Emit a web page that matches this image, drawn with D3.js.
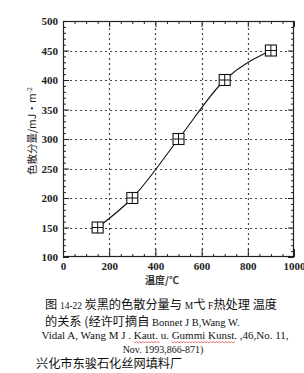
<!DOCTYPE html>
<html><head><meta charset="utf-8">
<script src="https://cdn.jsdelivr.net/npm/d3@7"></script>
<style>
html,body{margin:0;padding:0;background:#fff;}
svg{display:block;}
</style></head>
<body>
<svg id="chart" width="304" height="373"></svg>
<script>
// ---- data ----
const temperatures = [150, 300, 500, 700, 900];
const dispersiveComponent = [150, 200, 300, 400, 450];
const xTickValues = [0, 200, 400, 600, 800, 1000];
const yTickValues = [100, 150, 200, 250, 300, 350, 400, 450, 500];
const xTitle = "温度/℃";
const yTitle = "色散分量/mJ·m";
const yTitleSup = "-2";
const captionLine1 = [["图 ", "cjk"], ["14-22 ", "lat"], ["炭黑的色散分量与 ", "cjk"], ["M", "lat"], ["弋 ", "cjk"], ["F", "lat"], ["热处理 温度", "cjk"]];
const captionLine2 = [["的关系 (经许叮摘自 ", "cjk"], ["Bonnet J B,Wang W.", "lat"]];
const captionLine3 = [["Vidal A, Wang M J . ", "lat"], ["Kaut.", "latw"], [" u. ", "lat"], ["Gummi Kunst", "latw"], [". ,46,No. 11,", "lat"]];
const captionLine4 = "Nov. 1993,866-871)";
const footerText = "兴化市东骏石化丝网填料厂";

const svg = d3.select("#chart");
const L = 63, R = 294, T = 21, B = 257;
const x = d3.scaleLinear().domain([0, 1000]).range([L, R]);
const y = d3.scaleLinear().domain([100, 500]).range([B, T]);
const serif = "'Liberation Serif','DejaVu Serif',serif";
const cjk = "'Noto Sans CJK SC','Noto Sans CJK JP',sans-serif";

// dotted grid
const gridY = yTickValues.filter(v => v > 100 && v < 500);
const gridX = xTickValues.filter(v => v > 0 && v < 1000);
const grid = svg.append("g").attr("stroke", "#4a4a4a").attr("stroke-width", 1.2).attr("stroke-dasharray", "2,3");
grid.selectAll("line.h").data(gridY).join("line").attr("class", "h")
  .attr("x1", L + 2).attr("x2", R - 2).attr("y1", d => Math.round(y(d)) + 0.5).attr("y2", d => Math.round(y(d)) + 0.5);
grid.selectAll("line.v").data(gridX).join("line").attr("class", "v")
  .attr("y1", T + 2).attr("y2", B - 2).attr("x1", d => Math.round(x(d)) + 0.5).attr("x2", d => Math.round(x(d)) + 0.5);

// axes (inward ticks)
const minorY = d3.range(100, 501, 10).filter(v => v % 50 !== 0);
const minorX = d3.range(0, 1001, 50).filter(v => v % 200 !== 0);

function styleAxis(g) {
  g.select(".domain").remove();
  g.selectAll("line").attr("stroke", "#222");
}
const leftAxis = svg.append("g").attr("transform", `translate(${L},0)`)
  .call(d3.axisLeft(y).tickValues(yTickValues).tickSize(-6).tickPadding(5).tickFormat(d3.format("d")));
styleAxis(leftAxis);
leftAxis.selectAll("text").attr("font-family", serif).attr("font-size", 11).attr("font-weight", "bold").attr("fill", "#222");
svg.append("g").attr("transform", `translate(${L},0)`).call(d3.axisLeft(y).tickValues(minorY).tickSize(-3).tickFormat("")).call(styleAxis);

svg.append("g").attr("transform", `translate(${R},0)`)
  .call(d3.axisRight(y).tickValues(yTickValues).tickSize(-6).tickFormat("")).call(styleAxis);
svg.append("g").attr("transform", `translate(${R},0)`).call(d3.axisRight(y).tickValues(minorY).tickSize(-3).tickFormat("")).call(styleAxis);

const bottomAxis = svg.append("g").attr("transform", `translate(0,${B})`)
  .call(d3.axisBottom(x).tickValues(xTickValues).tickSize(-8).tickPadding(5).tickFormat(d3.format("d")));
styleAxis(bottomAxis);
bottomAxis.selectAll("text").attr("font-family", serif).attr("font-size", 11).attr("font-weight", "bold").attr("fill", "#222");
svg.append("g").attr("transform", `translate(0,${B})`).call(d3.axisBottom(x).tickValues(minorX).tickSize(-3).tickFormat("")).call(styleAxis);

svg.append("g").attr("transform", `translate(0,${T})`)
  .call(d3.axisTop(x).tickValues(xTickValues).tickSize(-6).tickFormat("")).call(styleAxis);
svg.append("g").attr("transform", `translate(0,${T})`)
  .call(d3.axisTop(x).tickValues(minorX).tickSize(-3).tickFormat("")).call(styleAxis);

// frame
svg.append("rect").attr("x", L + 0.5).attr("y", T + 0.5).attr("width", R - L - 1).attr("height", B - T - 1)
  .attr("fill", "none").attr("stroke", "#222").attr("stroke-width", 1.2);

// curve
const pts = temperatures.map((t, i) => [t, dispersiveComponent[i]]);
const line = d3.line().x(d => x(d[0])).y(d => y(d[1])).curve(d3.curveMonotoneX);
svg.append("path").datum(pts).attr("d", line).attr("fill", "none").attr("stroke", "#111").attr("stroke-width", 1.1);

// markers: square with cross
const ms = 5.5;
const mk = svg.append("g").selectAll("g").data(pts).join("g")
  .attr("transform", d => `translate(${x(d[0])},${y(d[1])})`);
mk.append("rect").attr("x", -ms).attr("y", -ms).attr("width", 2 * ms).attr("height", 2 * ms)
  .attr("fill", "#fff").attr("stroke", "#111").attr("stroke-width", 1.1);
mk.append("path").attr("d", `M${-ms},0H${ms}M0,${-ms}V${ms}`).attr("stroke", "#111").attr("stroke-width", 1);

// axis titles
const yt = svg.append("text").attr("transform", `translate(36,131) rotate(-90)`)
  .attr("text-anchor", "middle").attr("font-family", cjk).attr("font-size", 10.5).attr("fill", "#222");
yt.append("tspan").text(yTitle);
yt.append("tspan").attr("dy", -4).attr("font-size", 7).text(yTitleSup);

svg.append("text").attr("x", 162).attr("y", 284).attr("text-anchor", "middle")
  .attr("font-family", cjk).attr("font-size", 10).attr("font-weight", "bold").attr("fill", "#333").text(xTitle);

// caption
function richLine(parts, xPos, yPos, opts) {
  const o = Object.assign({ anchor: "start", cjkSize: 12.2, latSize: 10.5 }, opts || {});
  const t = svg.append("text").attr("x", xPos).attr("y", yPos).attr("text-anchor", o.anchor).attr("fill", "#111");
  const spans = [];
  parts.forEach(([s, k]) => {
    const ts = t.append("tspan").text(s)
      .attr("font-family", k === "cjk" ? cjk : serif)
      .attr("font-size", k === "cjk" ? o.cjkSize : o.latSize);
    spans.push([ts, k]);
  });
  return spans;
}
richLine(captionLine1, 45, 309, { latSize: 9.5 });
richLine(captionLine2, 45, 326, { latSize: 10.5 });
const l3 = richLine(captionLine3, 165, 339, { anchor: "middle", latSize: 11 });
richLine([[captionLine4, "lat"]], 163, 353, { anchor: "middle", latSize: 10 });
svg.append("text").attr("x", 36).attr("y", 368).attr("font-family", cjk).attr("font-size", 12.2).attr("fill", "#111").text(footerText);

// red wavy underline for the words flagged in the source
l3.filter(([, k]) => k === "latw").forEach(([ts]) => {
  const node = ts.node();
  const x0 = node.getStartPositionOfChar(0).x;
  const w = node.getComputedTextLength();
  let d = `M${x0},341.5`;
  for (let xx = x0, i = 0; xx < x0 + w; xx += 1.5, i++) d += `L${xx + 1.5},${i % 2 ? 341.5 : 343}`;
  svg.append("path").attr("d", d).attr("fill", "none").attr("stroke", "#d33").attr("stroke-width", 0.7);
});
</script>
</body></html>
